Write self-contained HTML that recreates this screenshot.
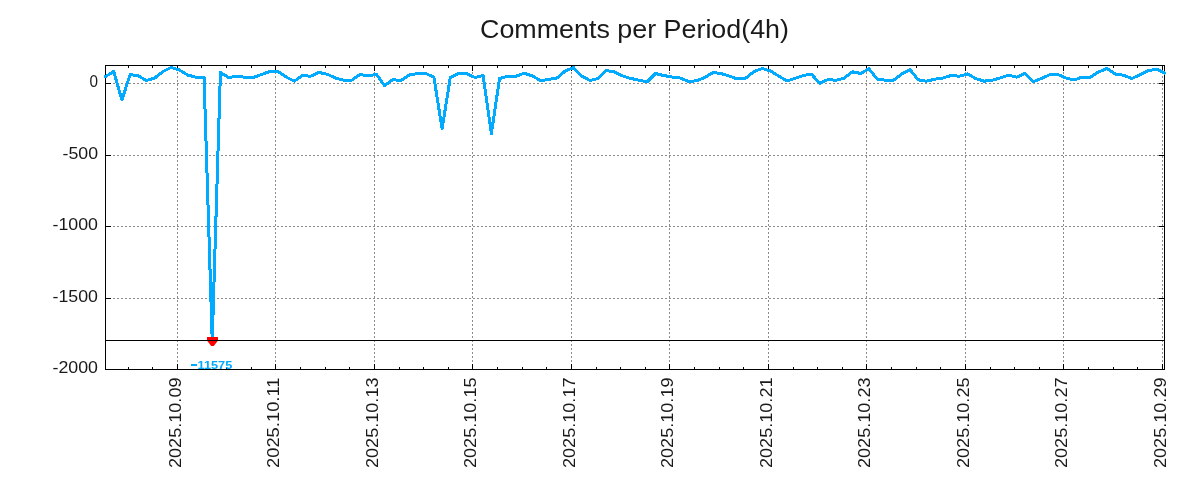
<!DOCTYPE html>
<html><head><meta charset="utf-8"><style>
html,body{margin:0;padding:0;background:#fff;width:1200px;height:500px;overflow:hidden}
svg{display:block;will-change:transform}
.grid{stroke:#8c8c8c;stroke-width:1;stroke-dasharray:2 2;fill:none}
text{font-family:"Liberation Sans",sans-serif;fill:#1a1a1a}
.yl{font-size:17px}
.xl{font-size:17px}
</style></head><body>
<svg width="1200" height="500" viewBox="0 0 1200 500">
<rect width="1200" height="500" fill="#fff"/>
<text x="480" y="38" style="font-size:25.5px" textLength="309" lengthAdjust="spacingAndGlyphs">Comments per Period(4h)</text>
<line x1="105" y1="83.5" x2="1164" y2="83.5" class="grid"/>
<line x1="105" y1="155.5" x2="1164" y2="155.5" class="grid"/>
<line x1="105" y1="226.5" x2="1164" y2="226.5" class="grid"/>
<line x1="105" y1="298.5" x2="1164" y2="298.5" class="grid"/>
<line x1="177.5" y1="65" x2="177.5" y2="369" class="grid" stroke-dashoffset="1"/>
<line x1="275.5" y1="65" x2="275.5" y2="369" class="grid" stroke-dashoffset="1"/>
<line x1="374.5" y1="65" x2="374.5" y2="369" class="grid" stroke-dashoffset="1"/>
<line x1="472.5" y1="65" x2="472.5" y2="369" class="grid" stroke-dashoffset="1"/>
<line x1="571.5" y1="65" x2="571.5" y2="369" class="grid" stroke-dashoffset="1"/>
<line x1="669.5" y1="65" x2="669.5" y2="369" class="grid" stroke-dashoffset="1"/>
<line x1="768.5" y1="65" x2="768.5" y2="369" class="grid" stroke-dashoffset="1"/>
<line x1="866.5" y1="65" x2="866.5" y2="369" class="grid" stroke-dashoffset="1"/>
<line x1="965.5" y1="65" x2="965.5" y2="369" class="grid" stroke-dashoffset="1"/>
<line x1="1063.5" y1="65" x2="1063.5" y2="369" class="grid" stroke-dashoffset="1"/>
<line x1="1162.5" y1="65" x2="1162.5" y2="369" class="grid" stroke-dashoffset="1"/>
<path d="M105,83.5h6M1165,83.5h-6M105,155.5h6M1165,155.5h-6M105,226.5h6M1165,226.5h-6M105,298.5h6M1165,298.5h-6M177.5,370v-6M177.5,65v6M275.5,370v-6M275.5,65v6M374.5,370v-6M374.5,65v6M472.5,370v-6M472.5,65v6M571.5,370v-6M571.5,65v6M669.5,370v-6M669.5,65v6M768.5,370v-6M768.5,65v6M866.5,370v-6M866.5,65v6M965.5,370v-6M965.5,65v6M1063.5,370v-6M1063.5,65v6M1162.5,370v-6M1162.5,65v6M128.5,370v-3M128.5,65v3M152.5,370v-3M152.5,65v3M201.5,370v-3M201.5,65v3M226.5,370v-3M226.5,65v3M251.5,370v-3M251.5,65v3M300.5,370v-3M300.5,65v3M325.5,370v-3M325.5,65v3M349.5,370v-3M349.5,65v3M399.5,370v-3M399.5,65v3M423.5,370v-3M423.5,65v3M448.5,370v-3M448.5,65v3M497.5,370v-3M497.5,65v3M522.5,370v-3M522.5,65v3M546.5,370v-3M546.5,65v3M596.5,370v-3M596.5,65v3M620.5,370v-3M620.5,65v3M645.5,370v-3M645.5,65v3M694.5,370v-3M694.5,65v3M719.5,370v-3M719.5,65v3M743.5,370v-3M743.5,65v3M793.5,370v-3M793.5,65v3M817.5,370v-3M817.5,65v3M842.5,370v-3M842.5,65v3M891.5,370v-3M891.5,65v3M916.5,370v-3M916.5,65v3M940.5,370v-3M940.5,65v3M990.5,370v-3M990.5,65v3M1014.5,370v-3M1014.5,65v3M1039.5,370v-3M1039.5,65v3M1088.5,370v-3M1088.5,65v3M1113.5,370v-3M1113.5,65v3M1137.5,370v-3M1137.5,65v3" stroke="#000" stroke-width="1" fill="none"/>
<rect x="105.5" y="65.5" width="1059.0" height="304.0" fill="none" stroke="#000" stroke-width="1"/>
<polyline points="105.50,76.50 113.71,71.50 121.92,100.00 130.13,74.50 138.34,76.00 146.55,80.50 154.76,78.00 162.97,71.50 171.17,67.50 179.38,70.00 187.59,75.00 195.80,77.20 204.01,77.00 212.22,340.00 220.43,72.50 228.64,77.50 236.85,76.30 245.06,77.30 253.27,77.50 261.48,74.50 269.69,71.50 277.90,71.30 286.10,77.00 294.31,81.20 302.52,75.50 310.73,76.20 318.94,72.50 327.15,74.20 335.36,78.00 343.57,80.20 351.78,80.20 359.99,74.50 368.20,76.00 376.41,74.20 384.62,85.70 392.83,79.60 401.03,80.60 409.24,75.00 417.45,73.50 425.66,73.50 433.87,77.00 442.08,128.70 450.29,77.50 458.50,73.50 466.71,73.50 474.92,77.50 483.13,75.50 491.34,133.70 499.55,78.50 507.76,76.30 515.97,76.30 524.17,73.20 532.38,76.00 540.59,80.60 548.80,79.40 557.01,78.00 565.22,71.00 573.43,67.50 581.64,76.00 589.85,80.50 598.06,78.50 606.27,70.50 614.48,72.00 622.69,76.00 630.90,78.50 639.10,80.20 647.31,81.80 655.52,73.50 663.73,75.50 671.94,77.00 680.15,78.00 688.36,81.50 696.57,80.80 704.78,77.50 712.99,72.50 721.20,73.50 729.41,76.20 737.62,79.00 745.83,78.00 754.03,71.50 762.24,68.50 770.45,71.00 778.66,76.00 786.87,81.00 795.08,78.30 803.29,75.50 811.50,74.20 819.71,83.50 827.92,79.50 836.13,80.30 844.34,78.00 852.55,71.80 860.76,73.50 868.97,68.80 877.17,79.00 885.38,80.20 893.59,80.20 901.80,74.00 910.01,69.80 918.22,79.80 926.43,81.20 934.64,79.20 942.85,78.00 951.06,75.50 959.27,76.20 967.48,74.00 975.69,78.50 983.90,81.20 992.10,80.20 1000.31,78.00 1008.52,75.20 1016.73,77.20 1024.94,73.50 1033.15,81.80 1041.36,78.50 1049.57,74.80 1057.78,74.50 1065.99,78.00 1074.20,80.00 1082.41,77.00 1090.62,77.00 1098.83,71.80 1107.03,68.50 1115.24,74.00 1123.45,75.20 1131.66,78.60 1139.87,74.80 1148.08,70.80 1156.29,69.00 1164.50,73.00" fill="none" stroke="#00aaff" stroke-width="3" stroke-linejoin="round" stroke-linecap="round" shape-rendering="crispEdges"/>
<polygon points="207,337 218,337 218,340.5 213.8,346 211.2,346 207,340.5" fill="#ff0000"/>
<line x1="105.5" y1="340.5" x2="1164.5" y2="340.5" stroke="#000" stroke-width="1"/>
<rect x="191" y="364" width="6" height="2" fill="#00aaff"/><text x="197.5" y="368.6" style="font-size:11.5px;font-weight:bold;fill:#00aaff" textLength="34.8" lengthAdjust="spacingAndGlyphs">11575</text>
<text x="89.5" y="87" class="yl" textLength="8.5" lengthAdjust="spacingAndGlyphs">0</text>
<text x="62.5" y="158.8" class="yl" textLength="35.5" lengthAdjust="spacingAndGlyphs">-500</text>
<text x="52.5" y="230" class="yl" textLength="45.5" lengthAdjust="spacingAndGlyphs">-1000</text>
<text x="52.5" y="302" class="yl" textLength="45.5" lengthAdjust="spacingAndGlyphs">-1500</text>
<text x="52.5" y="373" class="yl" textLength="45.5" lengthAdjust="spacingAndGlyphs">-2000</text>
<text transform="translate(180.5,468) rotate(-90)" class="xl" textLength="90.5" lengthAdjust="spacingAndGlyphs">2025.10.09</text>
<text transform="translate(278.5,468) rotate(-90)" class="xl" textLength="90.5" lengthAdjust="spacingAndGlyphs">2025.10.11</text>
<text transform="translate(377.5,468) rotate(-90)" class="xl" textLength="90.5" lengthAdjust="spacingAndGlyphs">2025.10.13</text>
<text transform="translate(475.5,468) rotate(-90)" class="xl" textLength="90.5" lengthAdjust="spacingAndGlyphs">2025.10.15</text>
<text transform="translate(574.5,468) rotate(-90)" class="xl" textLength="90.5" lengthAdjust="spacingAndGlyphs">2025.10.17</text>
<text transform="translate(672.5,468) rotate(-90)" class="xl" textLength="90.5" lengthAdjust="spacingAndGlyphs">2025.10.19</text>
<text transform="translate(771.5,468) rotate(-90)" class="xl" textLength="90.5" lengthAdjust="spacingAndGlyphs">2025.10.21</text>
<text transform="translate(869.5,468) rotate(-90)" class="xl" textLength="90.5" lengthAdjust="spacingAndGlyphs">2025.10.23</text>
<text transform="translate(968.5,468) rotate(-90)" class="xl" textLength="90.5" lengthAdjust="spacingAndGlyphs">2025.10.25</text>
<text transform="translate(1066.5,468) rotate(-90)" class="xl" textLength="90.5" lengthAdjust="spacingAndGlyphs">2025.10.27</text>
<text transform="translate(1165.5,468) rotate(-90)" class="xl" textLength="90.5" lengthAdjust="spacingAndGlyphs">2025.10.29</text>
</svg>
</body></html>
